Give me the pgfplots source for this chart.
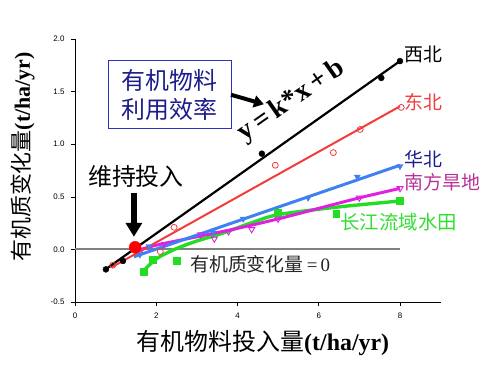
\documentclass[border=0pt]{standalone}
\usepackage{fontspec}
\setmainfont{Liberation Serif}
\newfontfamily\cjk{Noto Sans CJK SC}
\newfontfamily\arial{Liberation Sans}
\usepackage{pgfplots}
\pgfplotsset{compat=1.18}
\usetikzlibrary{arrows.meta}
\definecolor{cred}{HTML}{F03C3C}
\definecolor{cblue}{HTML}{4080F0}
\definecolor{cnavy}{HTML}{1C1C8C}
\definecolor{cmag}{HTML}{E020E0}
\definecolor{cmagtxt}{HTML}{B83098}
\definecolor{cgreen}{HTML}{22DD22}
\definecolor{cgreentxt}{HTML}{33DD33}
\definecolor{cbox}{HTML}{3030C0}
\begin{document}
\begin{tikzpicture}
\useasboundingbox (-75bp,-69bp) rectangle (425bp,302bp);
\begin{axis}[
  at={(0,0)}, anchor=south west,
  scale only axis, width=365.6bp, height=263bp,
  xmin=0, xmax=9, ymin=-0.5, ymax=2,
  axis x line*=bottom, axis y line*=left,
  xtick={0,2,4,6,8}, ytick={-0.5,0,0.5,1,1.5,2},
  tick align=outside, major tick length=4bp,
  tick style={black, line width=0.6pt},
  axis line style={line width=0.8pt},
  /pgf/number format/assume math mode=true,
  yticklabel style={font=\arial\fontsize{8}{9}\selectfont, xshift=-3bp,
     /pgf/number format/fixed, /pgf/number format/fixed zerofill, /pgf/number format/precision=1},
  xticklabel style={font=\arial\fontsize{8}{9}\selectfont, yshift=-3bp},
  clip=false,
]
% zero line
\addplot[gray, line width=2pt] coordinates {(0,0) (8,0)};
% 长江流域水田 (green)
\addplot[cgreen, line width=3.4pt, smooth] coordinates {(1.7,-0.2) (2.0,-0.09) (2.45,0.0) (3.0,0.08) (3.6,0.15) (4.4,0.26) (5.0,0.33) (6.4,0.40) (8.0,0.46)};
\addplot[cgreen, only marks, mark=square*, mark size=3.5pt] coordinates {(1.7,-0.21) (1.92,-0.1) (2.5,-0.11) (5.0,0.35) (6.43,0.34) (8.0,0.46)};
% 南方旱地 (magenta)
\addplot[cmag, line width=3pt, smooth] coordinates {(1.45,-0.02) (2.0,0.04) (3.0,0.12) (4.0,0.2) (5.0,0.29) (6.0,0.39) (7.0,0.49) (8.0,0.58)};
\addplot[cmag, only marks, mark=triangle, mark size=3.5pt, mark options={rotate=180, line width=0.9pt}] coordinates {(1.6,-0.02) (2.2,0.05) (3.1,0.14) (3.43,0.1) (3.78,0.17) (4.35,0.19) (5.0,0.29) (7.0,0.49) (8.0,0.58)};
% 华北 (blue)
\addplot[cblue, line width=3pt] coordinates {(1.45,-0.07) (8.0,0.80)};
\addplot[cblue, only marks, mark=triangle*, mark size=3.5pt, mark options={rotate=180}] coordinates {(1.6,-0.05) (1.82,0.03) (3.4,0.16) (4.14,0.29) (5.74,0.49) (6.95,0.69) (8.0,0.79)};
% 东北 (red)
\addplot[cred, line width=2pt] coordinates {(0.9,-0.17) (8.0,1.36)};
\addplot[cred, only marks, mark=o, mark size=3pt, mark options={line width=0.8pt}] coordinates {(0.93,-0.15) (2.1,-0.02) (2.44,0.21) (4.93,0.80) (6.36,0.92) (7.02,1.14) (8.03,1.35)};
% 西北 (black)
\addplot[black, line width=2.2pt] coordinates {(0.75,-0.19) (8.0,1.79)};
\addplot[black, only marks, mark=*, mark size=3pt] coordinates {(0.76,-0.19) (1.18,-0.11) (4.6,0.91) (7.54,1.63) (8.0,1.79)};
% maintenance point
\addplot[red, only marks, mark=*, mark size=6pt] coordinates {(1.48,0.02)};

% annotations
\node[draw=cbox, line width=1.2pt, fill=white, minimum width=123bp, minimum height=68bp, align=center,
      font=\cjk\fontsize{24}{29}\selectfont, text=cnavy, inner sep=2pt] at (axis cs:2.33,1.47) {有机物料\\利用效率};
\draw[line width=4pt, -{Triangle[length=10pt,width=12pt]}] (axis cs:3.84,1.47) -- (axis cs:4.65,1.38);
\node[rotate=35, font=\bfseries\fontsize{28}{28}\selectfont] at (axis cs:5.33,1.41) {y\,=\,k*x\,+\,b};
\node[font=\cjk\fontsize{24}{24}\selectfont] at (axis cs:1.50,0.69) {维持投入};
\draw[line width=6pt, -{Triangle[length=14pt,width=16pt]}] (axis cs:1.45,0.54) -- (axis cs:1.45,0.12);
\node[anchor=west, inner sep=0pt, font=\cjk\fontsize{19}{19}\selectfont] at (axis cs:8.1,1.85) {西北};
\node[anchor=west, inner sep=0pt, font=\cjk\fontsize{19}{19}\selectfont, text=cred] at (axis cs:8.1,1.40) {东北};
\node[anchor=west, inner sep=0pt, font=\cjk\fontsize{19}{19}\selectfont, text=cnavy] at (axis cs:8.1,0.86) {华北};
\node[anchor=west, inner sep=0pt, font=\cjk\fontsize{19}{19}\selectfont, text=cmagtxt] at (axis cs:8.1,0.64) {南方旱地};
\node[anchor=west, inner sep=0pt, font=\cjk\fontsize{19.5}{19}\selectfont, text=cgreentxt] at (axis cs:6.53,0.26) {长江流域水田};
\node[anchor=west, inner sep=0pt, font=\fontsize{19}{19}\selectfont, text=black!85] at (axis cs:2.83,-0.14) {{\cjk 有机质变化量}\,=\,0};
\end{axis}
% axis labels
\node[font=\fontsize{24}{24}\selectfont] at (188bp,-41bp) {{\cjk 有机物料投入量}\textbf{(t/ha/yr)}};
\node[rotate=90, font=\fontsize{22}{22}\selectfont] at (-52bp,145bp) {{\cjk 有机质变化量}\textbf{(t/ha/yr)}};
\end{tikzpicture}
\end{document}
